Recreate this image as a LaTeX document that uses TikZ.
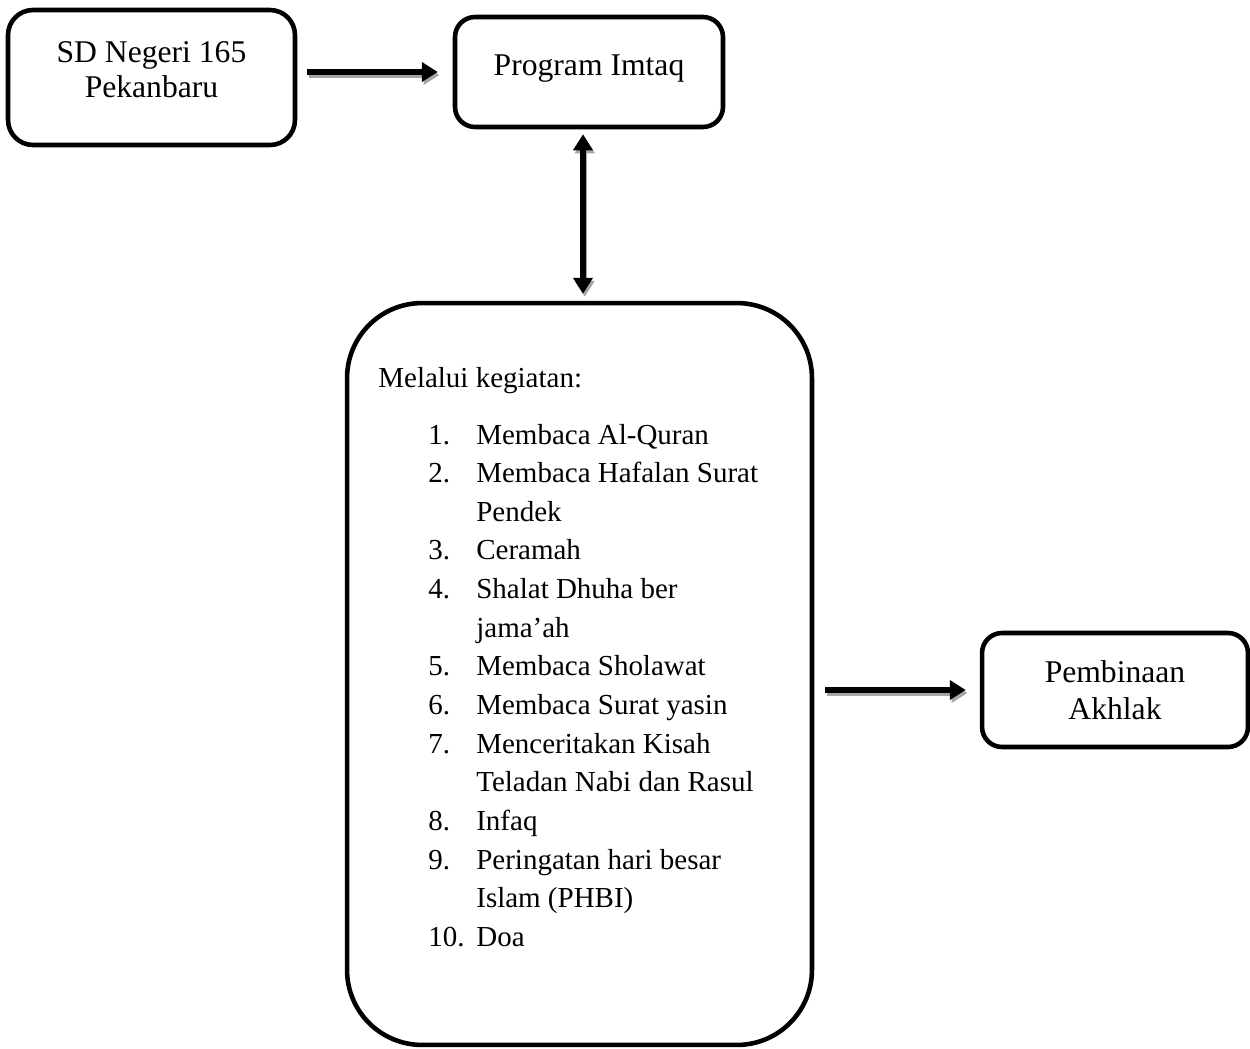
\documentclass[tikz,border=0pt]{standalone}
\usepackage{fontspec}
\setmainfont{Liberation Serif}
\usetikzlibrary{arrows.meta}

\begin{document}
\begin{tikzpicture}[x=0.02cm,y=-0.02cm,>={Triangle[length=0.32cm,width=0.38cm]},
  box/.style={draw,line width=2.6pt,align=center,font=\fontsize{18}{21}\selectfont},
  boxtext/.style={align=center,inner sep=0pt,font=\fontsize{18}{20}\selectfont},
  flow/.style={line width=3pt,preaction={draw=black!35,line width=3pt,transform canvas={shift={(0.035cm,-0.06cm)}}}},
  listtext/.style={font=\fontsize{16.5}{22}\selectfont,inner sep=0pt}]
  \useasboundingbox (0,0) rectangle (1250,1048);

  \node[box,minimum width=5.74cm,minimum height=2.7cm,rounded corners=0.5cm] (sd) at (151.5,77.5) {};
  \node[boxtext] (sdtext) at (151.5,70) {SD Negeri 165\\Pekanbaru};
  \node[box,minimum width=5.36cm,minimum height=2.2cm,rounded corners=0.4cm] (imtaq) at (589,72) {};
  \node[boxtext] (imtaqtext) at (589,69) {Program Imtaq};
  \node[box,minimum width=9.3cm,minimum height=14.84cm,rounded corners=1.5cm] (kegiatan) at (579.5,674) {};
  \node[box,minimum width=5.32cm,minimum height=2.28cm,rounded corners=0.4cm] (akhlak) at (1115,690) {Pembinaan\\Akhlak};

  \node[listtext,anchor=base west] (judul) at (378,387) {Melalui kegiatan:};
  \node[listtext,anchor=base west] (daftar) at (428,444) {%
    \begin{tabular}[t]{@{}p{0.96cm}@{}l@{}}
      1. & Membaca Al-Quran\\
      2. & Membaca Hafalan Surat\\
         & Pendek\\
      3. & Ceramah\\
      4. & Shalat Dhuha ber\\
         & jama’ah\\
      5. & Membaca Sholawat\\
      6. & Membaca Surat yasin\\
      7. & Menceritakan Kisah\\
         & Teladan Nabi dan Rasul\\
      8. & Infaq\\
      9. & Peringatan hari besar\\
         & Islam (PHBI)\\
      10. & Doa
    \end{tabular}};

  % arrows with grey shadow
  \draw[flow,->,shorten <=0.2cm,shorten >=0.3cm] (sd.east |- imtaq.west) -- (imtaq.west);
  \draw[flow,<->,shorten <=0.1cm,shorten >=0.14cm] ([xshift=-0.12cm]imtaq.south) -- ([xshift=-0.12cm]imtaq.south |- kegiatan.north);
  \draw[flow,->,shorten <=0.22cm,shorten >=0.28cm] (kegiatan.east |- akhlak.west) -- (akhlak.west);
\end{tikzpicture}
\end{document}
